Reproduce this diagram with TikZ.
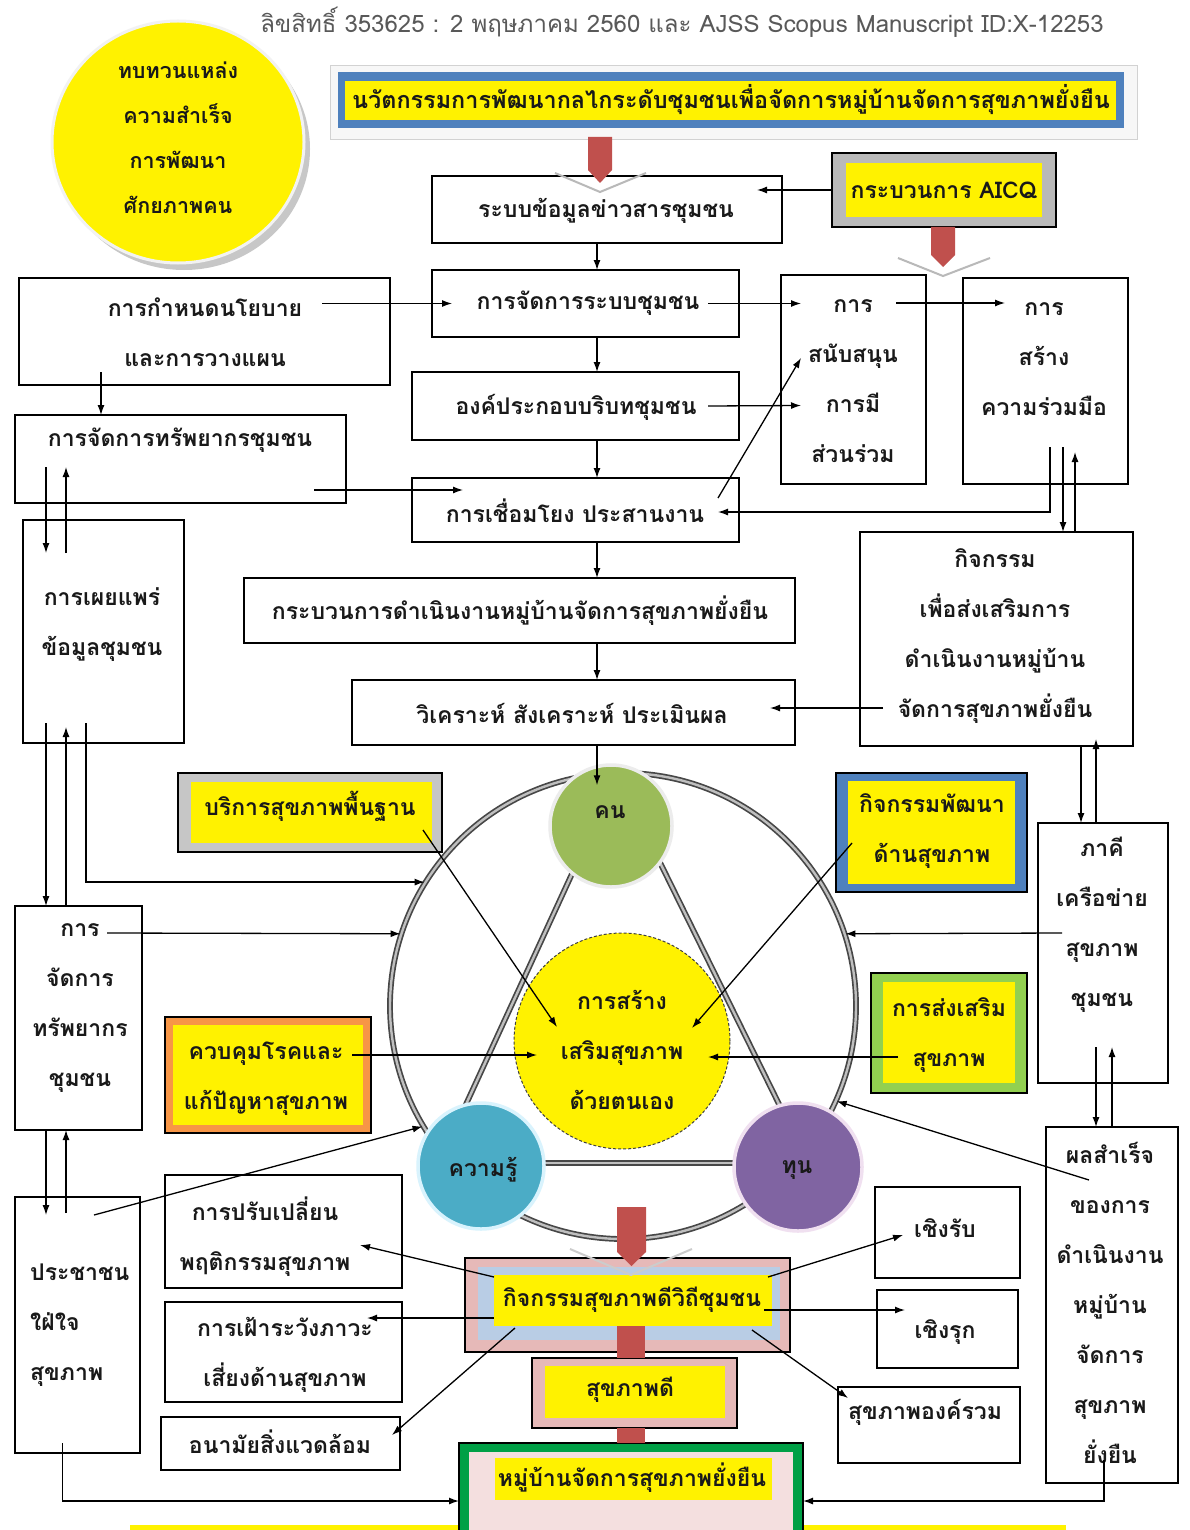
\documentclass[tikz,border=0pt]{standalone}
\usepackage{fontspec}
\newfontfamily\thai[Script=Thai]{Loma}
\usetikzlibrary{calc,arrows.meta,shapes.geometric}

\definecolor{kblue}{RGB}{79,129,189}
\definecolor{kgreen}{RGB}{155,187,89}
\definecolor{kcyan}{RGB}{75,172,198}
\definecolor{kpurple}{RGB}{128,100,162}
\definecolor{korange}{RGB}{247,150,70}
\definecolor{klgreen}{RGB}{146,208,80}
\definecolor{kpink}{RGB}{230,185,184}
\definecolor{klblue}{RGB}{185,205,229}
\definecolor{kdgreen}{RGB}{0,160,70}
\definecolor{kred}{RGB}{192,80,77}

% rectangle node given by its corners: [options]{name}{x1}{y1}{x2}{y2}
\newcommand\cornerbox[6][]{%
  \node[box,#1,minimum width={#5-#3},minimum height={#6-#4}] (#2) at ({(#3+#5)/2},{(#4+#6)/2}) {};}

\begin{document}
\begin{tikzpicture}[x=1pt,y=-1pt,
  box/.style={draw=black,line width=1.8pt,fill=white,inner sep=0pt,outer sep=0pt},
  txt/.style={font=\thai\bfseries\fontsize{23}{50}\selectfont,align=center,inner sep=4pt,text=black!90},
  arr/.style={draw=black,line width=1.3pt,-{Latex[length=10pt,width=7pt]}},
  band/.style={draw=black!72,double=gray!50,line width=1.7pt,double distance=2.4pt},
  disc/.style={circle,inner sep=0pt,line width=3.5pt},
]
\useasboundingbox (0,0) rectangle (1189,1530);
\fill[white] (0,0) rectangle (1189,1530);

% header line
\node[font=\thai\fontsize{24}{28}\selectfont,text=black!65] (tHead) at (682,22)
  {ลิขสิทธิ์ 353625 : 2 พฤษภาคม 2560 และ AJSS Scopus Manuscript ID:X-12253};

% goal circle
\fill[black!22] (184,149) ellipse [x radius=126, y radius=121];
\node[ellipse,fill=yellow,draw=white!90!gray,line width=3pt,minimum width=252,minimum height=242,inner sep=0pt] (cGoal) at (178,142) {};
\node[txt,font=\thai\bfseries\fontsize{21.5}{45}\selectfont] (tGoal) at (178,138) {ทบทวนแหล่ง\\ความสำเร็จ\\การพัฒนา\\ศักยภาพคน};

% title banner
\cornerbox[draw=gray!35,line width=1pt,fill=gray!6]{bBanner}{330}{66}{1137}{140}
\cornerbox[draw=none,fill=kblue]{bBannerBlue}{338}{72}{1124}{128}
\cornerbox[draw=none,fill=yellow]{bBannerIn}{345}{81}{1116}{120}
\node[txt,font=\thai\bfseries\fontsize{23.4}{50}\selectfont] (tBanner) at (731,100) {นวัตกรรมการพัฒนากลไกระดับชุมชนเพื่อจัดการหมู่บ้านจัดการสุขภาพยั่งยืน};

% AICQ
\cornerbox[fill=gray!55]{bAicq}{832}{153}{1056}{227}
\cornerbox[draw=none,fill=yellow]{bAicqIn}{846}{163}{1042}{217}
\node[txt] (tAicq) at (944,190) {กระบวนการ AICQ};

% plain boxes
\cornerbox{bInfo}{432}{176}{782}{243}
\cornerbox{bSys}{432}{270}{739}{337}
\cornerbox{bCtx}{412}{372}{739}{440}
\cornerbox{bLink}{412}{478}{739}{542}
\cornerbox{bProc}{244}{578}{795}{643}
\cornerbox{bEval}{352}{680}{795}{745}
\cornerbox{bPolicy}{19}{278}{390}{385}
\cornerbox{bRes}{15}{415}{346}{503}
\cornerbox{bPub}{23}{520}{184}{743}
\cornerbox{bSup}{781}{275}{926}{484}
\cornerbox{bCoop}{963}{278}{1128}{484}
\cornerbox{bAct}{860}{532}{1133}{746}
\cornerbox{bNet}{1038}{823}{1168}{1083}
\cornerbox{bRes2}{15}{906}{142}{1130}
\cornerbox{bPeople}{15}{1197}{140}{1453}
\cornerbox{bSucc}{1046}{1127}{1178}{1483}
\cornerbox{bBeh}{165}{1175}{402}{1288}
\cornerbox{bWatch}{165}{1302}{402}{1402}
\cornerbox{bEnv}{161}{1417}{400}{1470}
\cornerbox{bRec}{875}{1187}{1020}{1278}
\cornerbox{bPro}{877}{1290}{1018}{1368}
\cornerbox{bHol}{838}{1387}{1020}{1463}

% framed coloured boxes
\cornerbox[fill=gray!45,line width=1.5pt]{bBasic}{178}{773}{442}{852}
\cornerbox[draw=none,fill=yellow]{bBasicIn}{191}{782}{432}{843}
\cornerbox[fill=kblue,line width=1.5pt]{bDev}{836}{773}{1027}{892}
\cornerbox[draw=none,fill=yellow]{bDevIn}{848}{781}{1015}{884}
\cornerbox[fill=klgreen,line width=1.5pt]{bProm}{871}{973}{1027}{1093}
\cornerbox[draw=none,fill=yellow]{bPromIn}{883}{982}{1015}{1083}
\cornerbox[fill=korange,line width=1.5pt]{bCtrl}{165}{1017}{371}{1133}
\cornerbox[draw=none,fill=yellow]{bCtrlIn}{173}{1025}{363}{1125}
\cornerbox[fill=kpink,line width=1.5pt]{bHealthy}{465}{1258}{790}{1352}
\cornerbox[draw=none,fill=klblue]{bHealthyMid}{478}{1267}{780}{1340}
\cornerbox[draw=none,fill=yellow]{bHealthyIn}{494}{1275}{772}{1326}
\cornerbox[fill=kpink,line width=1.5pt]{bGood}{532}{1358}{737}{1428}
\cornerbox[draw=none,fill=yellow]{bGoodIn}{545}{1366}{725}{1418}
\fill[yellow] (130,1525) rectangle (1066,1530);
\cornerbox[draw=black,fill=kdgreen,line width=1.5pt]{bVillage}{459}{1443}{803}{1534}
\cornerbox[draw=none,fill=kpink!45]{bVillageMid}{469}{1452}{793}{1534}
\cornerbox[draw=none,fill=yellow]{bVillageIn}{495}{1458}{772}{1500}

% ring and triangle
\node[circle,minimum size=466,inner sep=0pt,band] (ring) at (623,1006) {};
\coordinate (kA) at (594,826);
\coordinate (kB) at (439,1163);
\coordinate (kC) at (642,826);
\coordinate (kD) at (808,1163);
\draw[band] (kA) -- (kB);
\draw[band] (kC) -- (kD);
\draw[band] (kB) -- (kD);

\node[disc,fill=kgreen,draw=white!85!gray,minimum size=122] (cKon) at (611,826) {};
\node[disc,fill=kcyan,draw=white!85!cyan,minimum size=126] (cKnow) at (481,1166) {};
\node[disc,fill=kpurple,draw=white!88!violet,minimum size=128] (cCap) at (798,1167) {};
\node[circle,fill=yellow,draw=black!75,densely dashed,line width=1pt,minimum size=216,inner sep=0pt] (cSelf) at (622,1041) {};

% labels
\node[txt] (tInfo) at (606,211) {ระบบข้อมูลข่าวสารชุมชน};
\node[txt] (tSys) at (588,303) {การจัดการระบบชุมชน};
\node[txt] (tCtx) at (576,407) {องค์ประกอบบริบทชุมชน};
\node[txt] (tLink) at (575,511) {การเชื่อมโยง ประสานงาน};
\node[txt] (tProc) at (520,611) {กระบวนการดำเนินงานหมู่บ้านจัดการสุขภาพยั่งยืน};
\node[txt] (tEval) at (572,713) {วิเคราะห์ สังเคราะห์ ประเมินผล};
\node[txt] (tPolicy) at (205,332) {การกำหนดนโยบาย\\และการวางแผน};
\node[txt] (tRes) at (180,440) {การจัดการทรัพยากรชุมชน};
\node[txt] (tPub) at (102,625) {การเผยแพร่\\ข้อมูลชุมชน};
\node[txt] (tSup) at (853,381) {การ\\สนับสนุน\\การมี\\ส่วนร่วม};
\node[txt] (tCoop) at (1044,359) {การ\\สร้าง\\ความร่วมมือ};
\node[txt] (tAct) at (995,636) {กิจกรรม\\เพื่อส่งเสริมการ\\ดำเนินงานหมู่บ้าน\\จัดการสุขภาพยั่งยืน};
\node[txt] (tBasic) at (310,806) {บริการสุขภาพพื้นฐาน};
\node[txt] (tDev) at (932,831) {กิจกรรมพัฒนา\\ด้านสุขภาพ};
\node[txt] (tNet) at (1102,925) {ภาคี\\เครือข่าย\\สุขภาพ\\ชุมชน};
\node[txt] (tRes2) at (80,1008) {การ\\จัดการ\\ทรัพยากร\\ชุมชน};
\node[txt] (tSelf) at (622,1050) {การสร้าง\\เสริมสุขภาพ\\ด้วยตนเอง};
\node[txt] (tProm) at (949,1035) {การส่งเสริม\\สุขภาพ};
\node[txt] (tCtrl) at (266,1079) {ควบคุมโรคและ\\แก้ปัญหาสุขภาพ};
\node[txt,align=left,anchor=west] (tPeople) at (26,1325) {ประชาชน\\ใฝ่ใจ\\สุขภาพ};
\node[txt] (tSucc) at (1110,1303) {ผลสำเร็จ\\ของการ\\ดำเนินงาน\\หมู่บ้าน\\จัดการ\\สุขภาพ\\ยั่งยืน};
\node[txt] (tBeh) at (265,1237) {การปรับเปลี่ยน\\พฤติกรรมสุขภาพ};
\node[txt] (tWatch) at (285,1355) {การเฝ้าระวังภาวะ\\เสี่ยงด้านสุขภาพ};
\node[txt] (tEnv) at (280,1442) {อนามัยสิ่งแวดล้อม};
\node[txt] (tHealthy) at (632,1300) {กิจกรรมสุขภาพดีวิถีชุมชน};
\node[txt] (tGood) at (630,1390) {สุขภาพดี};
\node[txt] (tVillage) at (632,1478) {หมู่บ้านจัดการสุขภาพยั่งยืน};
\node[txt] (tRec) at (945,1228) {เชิงรับ};
\node[txt] (tPro) at (945,1332) {เชิงรุก};
\node[txt] (tHol) at (925,1412) {สุขภาพองค์รวม};
\node[txt] (tKon) at (610,812) {คน};
\node[txt] (tKnow) at (483,1170) {ความรู้};
\node[txt] (tCap) at (797,1170) {ทุน};

% connectors
\coordinate (sp) at (597,0);
\draw[arr] (bAicq.west) -- ($(bInfo.east)+(-25,-19.5)$);
\foreach \a/\b in {bInfo/bSys,bSys/bCtx,bCtx/bLink,bLink/bProc,bProc/bEval}
  \draw[arr] (\a.south -| sp) -- (\b.north -| sp);
\draw[arr] (bEval.south -| sp) -- ($(cKon.north -| sp)+(0,22)$);
\draw[arr] ($(bPolicy.east)+(-68,-28)$) -- ($(bSys.west)+(20,0)$);
\draw[arr] ($(bSys.east)+(-31,0)$) -- ($(bSup.west)+(20,-76)$);
\draw[arr] ($(bCtx.east)+(-31,0)$) -- ($(bSup.west)+(20,26)$);
\draw[arr] ($(bLink.east)+(-21,-12)$) -- ($(bSup.west)+(20,-21.5)$);
\draw[arr] ($(bSup.north east)+(-30,28)$) -- ($(bCoop.north west)+(42,25)$);
\draw[arr] ($(bCoop.south)+(4.5,-37)$) |- ($(bLink.east)+(-21,2)$);
\draw[arr] ($(bCoop.south)+(17.5,-37)$) -- ($(bAct.north)+(66.5,0)$);
\draw[arr] ($(bAct.north)+(78.5,0)$) -- ($(bCoop.south)+(29.5,-32)$);
\draw[arr] ($(bAct.west)+(23,69)$) -- ($(bEval.east)+(-25,-4.5)$);
\draw[arr] ($(bAct.south)+(84.5,0)$) -- ($(bNet.north)+(-22,0)$);
\draw[arr] ($(bNet.north)+(-7,0)$) -- ($(bAct.south)+(99.5,-7)$);
\draw[arr] ($(bNet.south)+(-7,-36)$) -- ($(bSucc.north)+(-16,0)$);
\draw[arr] (bSucc.north) -- ($(bNet.south)+(9,-36)$);
\draw[arr] ($(bNet.west)+(24,-20)$) -- (ring.18);
\draw[arr] ($(bProm.west)+(27,24)$) -- ($(cSelf.center)+(86,16)$);
\draw[arr] ($(bDev.west)+(16,10.5)$) -- ($(cSelf.center)+(70,-13)$);
\draw[arr] ($(bBasic.south east)+(-19,-22)$) -- ($(cSelf.center)+(-65,-14)$);
\draw[arr] ($(bCtrl.east)+(-19,-20)$) -- ($(cSelf.center)+(-85,14)$);
\draw[arr] ($(bPub.south)+(-17.5,-20)$) |- (ring.148);
\draw[arr] ($(bRes.south west)+(31,-36)$) -- ($(bPub.north west)+(23,33)$);
\draw[arr] ($(bPub.north west)+(43,33)$) -- ($(bRes.south west)+(51,-36)$);
\draw[arr] ($(bPub.south west)+(23,-20)$) -- ($(bRes2.north west)+(31,0)$);
\draw[arr] ($(bRes2.north west)+(51,0)$) -- ($(bPub.south west)+(43,-16)$);
\draw[arr] ($(bRes2.south west)+(31,0)$) -- ($(bPeople.north west)+(31,18)$);
\draw[arr] ($(bPeople.north west)+(51,16)$) -- ($(bRes2.south west)+(51,0)$);
\draw[arr] ($(bRes2.north west)+(92,27)$) -- (ring.162);
\draw[arr] ($(bRes.south east)+(-32,-13)$) -- ($(bLink.west)+(51,-20)$);
\draw[arr] ($(bPolicy.south west)+(82,-13)$) -- ($(bRes.north west)+(86,0)$);
\draw[arr] ($(bPeople.north east)+(-46,18)$) -- (ring.211);
\draw[arr] ($(bPeople.south)+(-15,-10)$) |- ($(bVillage.west)+(0,12.5)$);
\draw[arr] ($(bSucc.south)+(-8,-23)$) |- ($(bVillage.east)+(0,12.5)$);
\draw[arr] ($(bSucc.north west)+(43,53)$) -- (ring.336);
\draw[arr] ($(bHealthy.north west)+(29,19)$) -- ($(bBeh.east)+(-42,13.5)$);
\draw[arr] ($(bHealthy.west)+(29,13)$) -- ($(bWatch.east)+(-35,-34)$);
\draw[arr] ($(bHealthy.south west)+(50,-24)$) -- ($(bEnv.east)+(-8,-8.5)$);
\draw[arr] ($(bHealthy.north east)+(-22,19)$) -- ($(bRec.west)+(28,2.5)$);
\draw[arr] ($(bHealthy.east)+(-26,5)$) -- ($(bPro.west)+(28,-19)$);
\draw[arr] ($(bHealthy.south east)+(-38,-22)$) -- ($(bHol.north west)+(10,11)$);

% red block arrows
\draw[gray!55,line width=2pt] (555,173) -- (600,192) -- (646,173);
\fill[kred] (588,137) -- (612,137) -- (612,170) -- (600,183) -- (588,170) -- cycle;
\draw[gray!55,line width=2pt] (898,258) -- (943,276) -- (990,258);
\fill[kred] (931,227) -- (955,227) -- (955,255) -- (943,267) -- (931,255) -- cycle;
\draw[gray!40,line width=2pt] (570,1249) -- (631,1275) -- (692,1249);
\fill[kred] (617,1207) -- (646,1207) -- (646,1252) -- (631.5,1266) -- (617,1252) -- cycle;
\fill[kred] (617,1326) rectangle (645,1358);
\fill[kred] (617,1428) rectangle (645,1443);
\end{tikzpicture}
\end{document}
